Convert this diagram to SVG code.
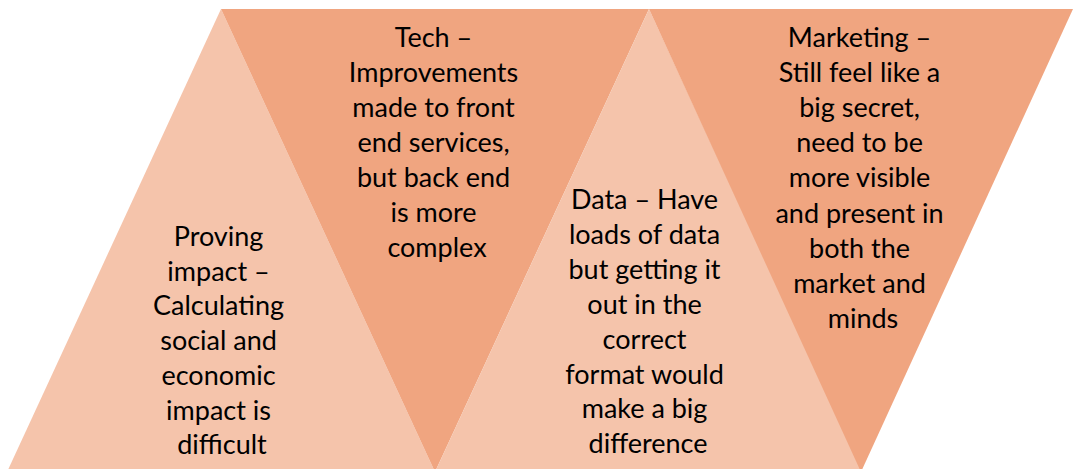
<svg xmlns="http://www.w3.org/2000/svg" width="1073" height="469" viewBox="0 0 1073 469">
  <style>
    .light { fill: #F5C4AB; }
    .dark { fill: #F0A580; }
    .label { font-family: Lato, "Liberation Sans", sans-serif; font-size: 27px; fill: #000; text-anchor: middle; }
  </style>
  <rect width="1073" height="469" fill="#fff"/>
  <g id="connectors"></g>

  <!-- upward triangle: proving impact -->
  <g id="node-impact">
    <polygon class="light" points="221,9 435,472 7,472"/>
    <text class="label" x="222" y="246">
      <tspan x="222">Proving</tspan>
      <tspan x="222" dy="34.7">impact –</tspan>
      <tspan x="222" dy="34.7">Calculating</tspan>
      <tspan x="222" dy="34.7">social and</tspan>
      <tspan x="222" dy="34.7">economic</tspan>
      <tspan x="222" dy="34.7">impact is</tspan>
      <tspan x="222" dy="34.7">difficult</tspan>
    </text>
  </g>

  <!-- downward triangle: tech -->
  <g id="node-tech">
    <polygon class="dark" points="221,9 649,9 435,472"/>
    <text class="label" x="437" y="47">
      <tspan x="437">Tech –</tspan>
      <tspan x="437" dy="35">Improvements</tspan>
      <tspan x="437" dy="35">made to front</tspan>
      <tspan x="437" dy="35">end services,</tspan>
      <tspan x="437" dy="35">but back end</tspan>
      <tspan x="437" dy="35">is more</tspan>
      <tspan x="437" dy="35">complex</tspan>
    </text>
  </g>

  <!-- upward triangle: data -->
  <g id="node-data">
    <polygon class="light" points="649,9 863,472 435,472"/>
    <text class="label" x="648" y="209">
      <tspan x="648">Data – Have</tspan>
      <tspan x="648" dy="34.9">loads of data</tspan>
      <tspan x="648" dy="34.9">but getting it</tspan>
      <tspan x="648" dy="34.9">out in the</tspan>
      <tspan x="648" dy="34.9">correct</tspan>
      <tspan x="648" dy="34.9">format would</tspan>
      <tspan x="648" dy="34.9">make a big</tspan>
      <tspan x="648" dy="34.9">difference</tspan>
    </text>
  </g>

  <!-- downward triangle: marketing -->
  <g id="node-marketing">
    <polygon class="dark" points="649,9 1073,9 861,472"/>
    <text class="label" x="863" y="47">
      <tspan x="863">Marketing –</tspan>
      <tspan x="863" dy="35.1">Still feel like a</tspan>
      <tspan x="863" dy="35.1">big secret,</tspan>
      <tspan x="863" dy="35.1">need to be</tspan>
      <tspan x="863" dy="35.1">more visible</tspan>
      <tspan x="863" dy="35.1">and present in</tspan>
      <tspan x="863" dy="35.1">both the</tspan>
      <tspan x="863" dy="35.1">market and</tspan>
      <tspan x="863" dy="35.1">minds</tspan>
    </text>
  </g>
</svg>
